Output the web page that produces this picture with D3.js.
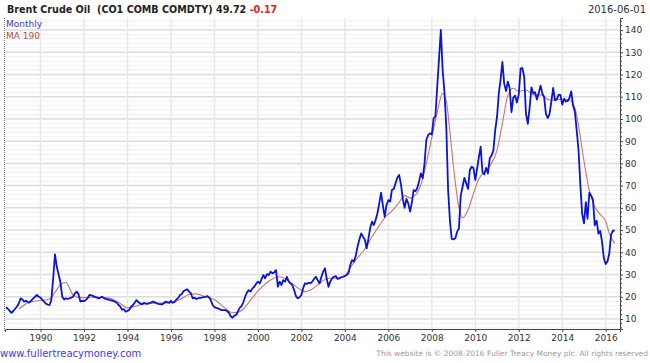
<!DOCTYPE html>
<html>
<head>
<meta charset="utf-8">
<script src="https://cdn.jsdelivr.net/npm/d3@7"></script>
<style>
  body { margin: 0; background: #fff; }
  svg { display: block; font-family: "DejaVu Sans", Verdana, sans-serif; }
</style>
</head>
<body>
<svg id="chart" width="650" height="363"></svg>
<script>
// ----------- DATA -----------
// first monthly point (year, month); one value per month after that
var firstMonth = [1988, 6];
var monthlyClose = [
  15.3, 14.6, 13.6, 12.8, 13.6, 14.6, 15.6,                           // 1988 (Jun-Dec)
  17.0, 19.3, 18.8, 17.8, 18.2, 17.6, 17.4, 18.4, 19.3, 20.0, 20.8, 20.0, // 1989
  19.6, 18.6, 17.8, 16.9, 16.5, 16.3, 18.5, 28.0, 39.1, 33.5, 30.0, 26.5, // 1990
  20.0, 18.8, 19.3, 19.0, 19.3, 19.6, 20.0, 21.5, 22.3, 21.2, 17.8, 18.2, // 1991
  18.0, 18.6, 19.3, 20.8, 20.6, 20.4, 19.9, 19.7, 19.3, 19.6, 20.0, 19.4, // 1992
  19.0, 18.8, 18.6, 18.4, 18.2, 17.8, 17.4, 16.4, 15.6, 14.2, 14.4, 13.3, // 1993
  13.6, 14.2, 15.5, 16.2, 17.3, 18.5, 17.6, 17.0, 16.6, 17.2, 17.0, 16.8, // 1994
  17.2, 17.4, 17.8, 17.6, 17.2, 16.8, 16.7, 16.6, 17.0, 17.8, 17.6, 17.3, // 1995
  18.2, 17.3, 17.6, 18.8, 19.4, 20.8, 21.2, 22.6, 23.0, 23.4, 22.3, 21.6, // 1996
  19.3, 19.6, 19.0, 19.3, 19.5, 19.6, 19.8, 20.0, 20.3, 19.8, 18.5, 16.3, // 1997
  15.3, 15.0, 14.8, 14.4, 14.0, 14.0, 14.0, 13.6, 12.8, 11.2, 10.6, 11.5, // 1998
  11.8, 13.5, 15.0, 15.8, 17.5, 20.0, 22.0, 23.0, 22.3, 23.8, 24.5, 25.8, // 1999
  26.8, 26.0, 27.8, 29.8, 28.3, 30.2, 29.8, 31.3, 30.5, 31.0, 32.0, 24.5, // 2000
  26.8, 25.3, 27.5, 26.8, 29.0, 26.8, 26.0, 25.3, 23.0, 20.3, 19.3, 19.8, // 2001
  20.8, 24.0, 26.0, 25.8, 26.3, 26.0, 26.8, 28.0, 29.0, 27.5, 26.0, 28.8, // 2002
  31.3, 32.8, 28.3, 24.5, 26.8, 28.3, 29.0, 29.3, 28.0, 28.3, 28.8, 29.0, // 2003
  29.3, 29.8, 30.5, 34.3, 36.5, 35.8, 38.3, 42.5, 45.8, 48.5, 47.0, 45.8, // 2004
  41.8, 46.3, 50.8, 53.8, 52.3, 54.5, 57.5, 62.0, 66.8, 61.0, 56.0, 61.3, // 2005
  63.5, 62.8, 68.0, 68.5, 71.0, 73.5, 74.8, 70.5, 64.0, 60.0, 64.0, 62.0, // 2006
  58.3, 62.5, 68.0, 67.5, 68.8, 72.0, 75.5, 73.3, 80.0, 90.5, 92.8, 93.5, // 2007
  93.0, 100.3, 101.0, 114.5, 127.0, 140.0, 122.0, 112.0, 96.0, 68.0, 54.0, 46.0, // 2008
  45.8, 46.4, 49.2, 50.8, 65.4, 69.5, 73.5, 71.0, 68.5, 77.0, 78.5, 77.9, // 2009
  72.5, 77.8, 82.7, 87.5, 76.0, 75.0, 78.0, 75.5, 82.3, 83.5, 85.9, 94.8, // 2010
  101.0, 111.8, 117.4, 125.7, 116.0, 112.5, 116.8, 113.8, 103.0, 109.6, 110.5, 107.4, // 2011
  111.0, 122.7, 122.9, 119.0, 102.4, 97.8, 104.9, 114.2, 111.5, 112.0, 108.7, 111.5, // 2012
  115.0, 111.4, 110.0, 102.4, 100.4, 102.2, 107.7, 114.0, 108.4, 108.8, 110.9, 110.8, // 2013
  106.4, 109.1, 107.8, 108.1, 109.4, 112.4, 106.0, 103.2, 94.7, 85.9, 70.2, 57.3,    // 2014
  53.0, 62.6, 55.1, 66.8, 65.6, 63.6, 52.2, 54.2, 48.4, 49.6, 44.6, 37.3,            // 2015
  34.7, 36.0, 39.6, 48.1, 49.7, 49.72                                                // 2016 (Jan-Jun)
];

// MA 190 at its turning points
var maDates = [
  "1989-01", "1989-07", "1990-01", "1990-06", "1990-09", "1990-12", "1991-03", "1991-05",
  "1991-07", "1991-11", "1992-06", "1993-01", "1993-06", "1993-09", "1994-01", "1994-05",
  "1994-09", "1995-04", "1995-12", "1996-06", "1996-11", "1997-03", "1997-08", "1998-01",
  "1998-06", "1998-11", "1999-02", "1999-05", "1999-09", "2000-01", "2000-07", "2001-01",
  "2001-06", "2001-11", "2002-03", "2002-06", "2002-11", "2003-04", "2003-10", "2004-01",
  "2004-06", "2004-12", "2005-04", "2005-08", "2005-12", "2006-03", "2006-07", "2006-10",
  "2007-01", "2007-04", "2007-07", "2007-10", "2008-01", "2008-04", "2008-07", "2008-09",
  "2008-11", "2009-01", "2009-04", "2009-06", "2009-09", "2009-12", "2010-03", "2010-07",
  "2010-10", "2011-01", "2011-04", "2011-07", "2011-10", "2012-01", "2012-05", "2012-09",
  "2013-01", "2013-06", "2013-12", "2014-05", "2014-08", "2014-10", "2015-01", "2015-04",
  "2015-07", "2015-10", "2016-01", "2016-03", "2016-06"
];
var maValues = [
  14.5, 17.6, 18.3, 19.0, 22.0, 25.5, 26.4, 24.0,
  20.8, 19.6, 19.8, 19.6, 18.4, 17.0, 15.0, 15.6,
  16.6, 17.1, 17.2, 18.8, 21.0, 21.3, 20.0, 18.8,
  15.5, 12.8, 13.0, 14.5, 18.5, 22.5, 27.0, 29.0,
  27.2, 24.0, 22.3, 23.0, 26.0, 28.3, 28.4, 29.6,
  35.5, 41.5, 47.0, 52.0, 56.5, 58.5, 62.5, 65.5,
  64.5, 65.8, 70.5, 80.0, 91.5, 103.0, 111.5, 108.0,
  94.0, 78.0, 60.0, 55.5, 59.0, 66.5, 73.0, 77.0,
  80.0, 86.0, 98.0, 110.5, 113.8, 112.3, 113.0, 110.8,
  110.8, 108.5, 108.8, 108.5, 105.0, 97.0, 81.0, 67.5,
  60.5, 57.0, 54.0, 48.5, 44.0
];

var yearTicks = [1990, 1992, 1994, 1996, 1998, 2000, 2002, 2004, 2006, 2008, 2010, 2012, 2014, 2016];
var priceTicks = [10, 20, 30, 40, 50, 60, 70, 80, 90, 100, 110, 120, 130, 140];

var titleText = "Brent Crude Oil  (CO1 COMB COMDTY) 49.72 ";
var changeText = "-0.17";
var dateText = "2016-06-01";
// ----------- END DATA -----------

var svg = d3.select("#chart");
// plot box (window.top is reserved, so use own names)
var plotLeft = 5, plotRight = 620, plotTop = 18, plotBottom = 329;

var x = d3.scaleTime()
  .domain([new Date(1988, 4, 14), new Date(2016, 7, 28)])
  .range([plotLeft, plotRight]);
var y = d3.scaleLinear()
  .domain([5.5, 145.4])
  .range([plotBottom, plotTop]);

var series = monthlyClose.map(function(v, i) {
  return { date: new Date(firstMonth[0], firstMonth[1] - 1 + i, 1), value: v };
});
var parseMonth = d3.timeParse("%Y-%m");
var maSeries = maDates.map(function(d, i) {
  return { date: parseMonth(d), value: maValues[i] };
});

var minorTicks = y.ticks(70).filter(function(d) { return d % 10 !== 0; });

svg.append("rect").attr("width", 650).attr("height", 363).attr("fill", "#fff");

// grid
var grid = svg.append("g");
grid.selectAll(".minor")
  .data(minorTicks)
  .enter().append("line")
  .attr("x1", plotLeft).attr("x2", plotRight)
  .attr("y1", function(d) { return y(d); })
  .attr("y2", function(d) { return y(d); })
  .attr("stroke", "#f0f0f0");
grid.selectAll(".major")
  .data(priceTicks)
  .enter().append("line")
  .attr("x1", plotLeft).attr("x2", plotRight)
  .attr("y1", function(d) { return y(d); })
  .attr("y2", function(d) { return y(d); })
  .attr("stroke", "#dcdcdc").attr("stroke-width", 1.5);
grid.selectAll(".vert")
  .data(yearTicks)
  .enter().append("line")
  .attr("x1", function(d) { return x(new Date(d, 0, 1)); })
  .attr("x2", function(d) { return x(new Date(d, 0, 1)); })
  .attr("y1", plotTop).attr("y2", plotBottom)
  .attr("stroke", "#e8e8e8").attr("stroke-width", 1.5);

// lines
svg.append("path")
  .datum(maSeries)
  .attr("fill", "none")
  .attr("stroke", "#cd7568")
  .attr("stroke-width", 1.1)
  .attr("d", d3.line().curve(d3.curveMonotoneX)
    .x(function(d) { return x(d.date); })
    .y(function(d) { return y(d.value); }));

svg.append("path")
  .datum(series)
  .attr("fill", "none")
  .attr("stroke", "#0a14d8")
  .attr("stroke-width", 1.8)
  .attr("stroke-linejoin", "round")
  .attr("d", d3.line()
    .x(function(d) { return x(d.date); })
    .y(function(d) { return y(d.value); }));

// left border
svg.append("line")
  .attr("x1", 4.5).attr("x2", 4.5).attr("y1", plotTop).attr("y2", plotBottom + 2)
  .attr("stroke", "#777").attr("stroke-dasharray", "1,1");

// right axis
var yAxis = d3.axisRight(y)
  .tickValues(priceTicks)
  .tickSize(3)
  .tickPadding(2);
var gy = svg.append("g")
  .attr("transform", "translate(" + plotRight + ",0)")
  .call(yAxis);
gy.select(".domain").attr("stroke", "#444");
gy.selectAll(".tick line").attr("stroke", "#444");
gy.selectAll(".tick text").attr("fill", "#333").attr("font-size", 9)
  .attr("font-family", "DejaVu Sans, sans-serif");
gy.selectAll(".minorTick")
  .data(minorTicks)
  .enter().append("line")
  .attr("x1", 0).attr("x2", 2)
  .attr("y1", function(d) { return y(d); })
  .attr("y2", function(d) { return y(d); })
  .attr("stroke", "#444");

// bottom axis
var xAxis = d3.axisBottom(x)
  .tickValues(yearTicks.map(function(d) { return new Date(d, 0, 1); }))
  .tickFormat(d3.timeFormat("%Y"))
  .tickSizeOuter(0)
  .tickSize(3)
  .tickPadding(3);
var gx = svg.append("g")
  .attr("transform", "translate(0," + plotBottom + ")")
  .call(xAxis);
gx.select(".domain").attr("stroke", "#444");
gx.selectAll(".tick line").attr("stroke", "#444");
gx.selectAll(".tick text").attr("fill", "#333").attr("font-size", 9)
  .attr("font-family", "DejaVu Sans, sans-serif");

// title
var title = svg.append("text")
  .attr("x", 7).attr("y", 13)
  .attr("font-size", 9.6).attr("font-weight", "bold").attr("fill", "#222")
  .style("white-space", "pre");
title.append("tspan").text(titleText);
title.append("tspan").attr("fill", "#e8201c").text(changeText);

svg.append("text")
  .attr("x", 646).attr("y", 13)
  .attr("text-anchor", "end")
  .attr("font-size", 10).attr("fill", "#333")
  .text(dateText);

// legend
svg.append("text").attr("x", 6).attr("y", 27)
  .attr("font-size", 9).attr("fill", "#3a3ad0").text("Monthly");
svg.append("text").attr("x", 6).attr("y", 39)
  .attr("font-size", 9).attr("fill", "#b24b45").text("MA 190");

// footer
svg.append("text").attr("x", 0).attr("y", 357)
  .attr("font-size", 10).attr("fill", "#3c3cf0").text("www.fullertreacymoney.com");
svg.append("text").attr("x", 648).attr("y", 356)
  .attr("text-anchor", "end")
  .attr("font-size", 7.5).attr("fill", "#9a9a9a")
  .text("This website is \u00a9 2008-2016 Fuller Treacy Money plc. All rights reserved");
</script>
</body>
</html>
